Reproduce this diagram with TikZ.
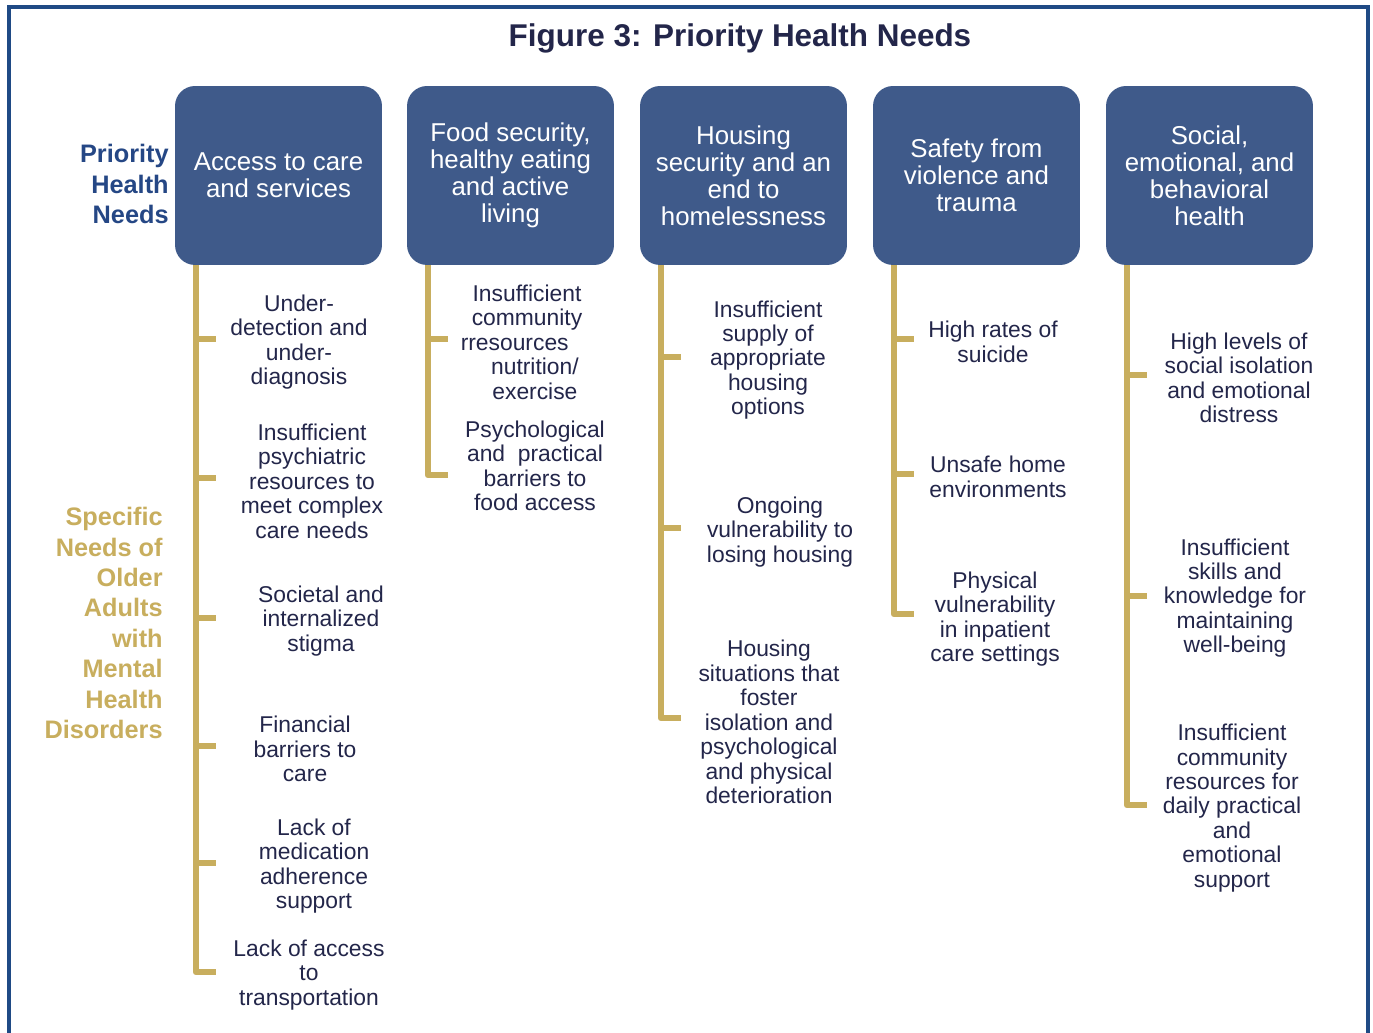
\documentclass[tikz,border=0pt]{standalone}
\usepackage{fontspec}
\setmainfont{Liberation Sans}
\usetikzlibrary{positioning, calc}
\usepackage{xcolor}
\definecolor{hnbox}{HTML}{3F5A8A}
\definecolor{hnframe}{HTML}{1F4A85}
\definecolor{hnlabel}{HTML}{254785}
\definecolor{hngold}{HTML}{C8AE5E}
\definecolor{hntext}{HTML}{23264A}

\begin{document}
\begin{tikzpicture}[x=0.02cm, y=-0.02cm,
    need/.style={fill=hnbox, text=white, rounded corners=0.4cm,
      minimum width=4.14cm, minimum height=3.58cm, align=center,
      font=\fontsize{14.7}{15.3}\selectfont},
    item/.style={text=hntext, align=center, inner sep=0pt,
      font=\fontsize{13}{13.9}\selectfont},
    sidelabel/.style={align=right, inner sep=0pt,
      font=\fontsize{14.4}{17.3}\selectfont\bfseries},
    trunk/.style={draw=hngold, line width=3.4pt, line join=round}]
  \useasboundingbox[fill=white] (0,0) rectangle (1373,1033);
  \draw[hnframe, line width=2.3pt] (9,1033) -- (9,7) -- (1368,7) -- (1368,1033);

  \node[font=\fontsize{17.9}{20}\selectfont\bfseries, text=hntext] (title) at (740,38)
    {Figure 3: Priority Health Needs};

  % row labels
  \node[sidelabel, text=hnlabel, anchor=east] (prio) at (169,184)
    {Priority\\Health\\Needs};
  \node[sidelabel, text=hngold, anchor=east] (specific) at (163,623)
    {Specific\\Needs of\\Older\\Adults\\with\\Mental\\Health\\Disorders};

  % the five priority needs
  \node[need] (need1) at (278.5,175.5) {Access to care\\and services};
  \node[need] (need2) at (510.5,175.5) {Food security,\\healthy eating\\and active\\living};
  \node[need] (need3) at (743.5,175.5) {Housing\\security and an\\end to\\homelessness};
  \node[need] (need4) at (976.5,175.5) {Safety from\\violence and\\trauma};
  \node[need] (need5) at (1209.5,175.5) {Social,\\emotional, and\\behavioral\\health};

  % specific needs under each box
  \node[item] (n1a) at (299,342) {Under-\\detection and\\under-\\diagnosis};
  \node[item] (n1b) at (312,481) {Insufficient\\psychiatric\\resources to\\meet complex\\care needs};
  \node[item] (n1c) at (321,621) {Societal and\\internalized\\stigma};
  \node[item] (n1d) at (305,749) {Financial\\barriers to\\care};
  \node[item] (n1e) at (314,866) {Lack of\\medication\\adherence\\support};
  \node[item] (n1f) at (309,975) {Lack of access\\to\\transportation};

  \node[item] (n2a) at (527,342) {Insufficient\\community\\rresources\hspace*{14pt}\null\\\hspace*{9pt}nutrition/\\\hspace*{9pt}exercise};
  \node[item] (n2b) at (535,466) {Psychological\\and\ \ practical\\barriers to\\food access};

  \node[item] (n3a) at (768,360) {Insufficient\\supply of\\appropriate\\housing\\options};
  \node[item] (n3b) at (780,532) {Ongoing\\vulnerability to\\losing housing};
  \node[item] (n3c) at (769,722) {Housing\\situations that\\foster\\isolation and\\psychological\\and physical\\deterioration};

  \node[item] (n4a) at (993,342) {High rates of\\suicide};
  \node[item] (n4b) at (998,477) {Unsafe home\\environments};
  \node[item] (n4c) at (995,619) {Physical\\vulnerability\\in inpatient\\care settings};

  \node[item] (n5a) at (1239,378) {High levels of\\social isolation\\and emotional\\distress};
  \node[item] (n5b) at (1235,598) {Insufficient\\skills and\\knowledge for\\maintaining\\well-being};
  \node[item] (n5c) at (1232,808) {Insufficient\\community\\resources for\\daily practical\\and\\emotional\\support};

  % gold trunks with ticks
  \coordinate (c1) at ($(need1.south west)+(21,0)$);
  \coordinate (c2) at ($(need2.south west)+(21,0)$);
  \coordinate (c3) at ($(need3.south west)+(21,0)$);
  \coordinate (c4) at ($(need4.south west)+(21,0)$);
  \coordinate (c5) at ($(need5.south west)+(21,0)$);

  \draw[trunk] (c1) |- ($(c1 |- n1f.west)+(20,-3)$);
  \draw[trunk] ($(c1 |- n1a.west)+(0,-3)$) -- ++(20,0);
  \draw[trunk] ($(c1 |- n1b.west)+(0,-3)$) -- ++(20,0);
  \draw[trunk] ($(c1 |- n1c.west)+(0,-3)$) -- ++(20,0);
  \draw[trunk] ($(c1 |- n1d.west)+(0,-3)$) -- ++(20,0);
  \draw[trunk] ($(c1 |- n1e.west)+(0,-3)$) -- ++(20,0);

  \draw[trunk] (c2) |- ($(c2 |- n2b.west)+(20,9)$);
  \draw[trunk] ($(c2 |- n2a.west)+(0,-3)$) -- ++(20,0);

  \draw[trunk] (c3) |- ($(c3 |- n3c.west)+(20,-4)$);
  \draw[trunk] ($(c3 |- n3a.west)+(0,-3)$) -- ++(20,0);
  \draw[trunk] ($(c3 |- n3b.west)+(0,-4)$) -- ++(20,0);

  \draw[trunk] (c4) |- ($(c4 |- n4c.west)+(20,-5)$);
  \draw[trunk] ($(c4 |- n4a.west)+(0,-3)$) -- ++(20,0);
  \draw[trunk] ($(c4 |- n4b.west)+(0,-3)$) -- ++(20,0);

  \draw[trunk] (c5) |- ($(c5 |- n5c.west)+(20,-3)$);
  \draw[trunk] ($(c5 |- n5a.west)+(0,-3)$) -- ++(20,0);
  \draw[trunk] ($(c5 |- n5b.west)+(0,-2)$) -- ++(20,0);
\end{tikzpicture}
\end{document}
